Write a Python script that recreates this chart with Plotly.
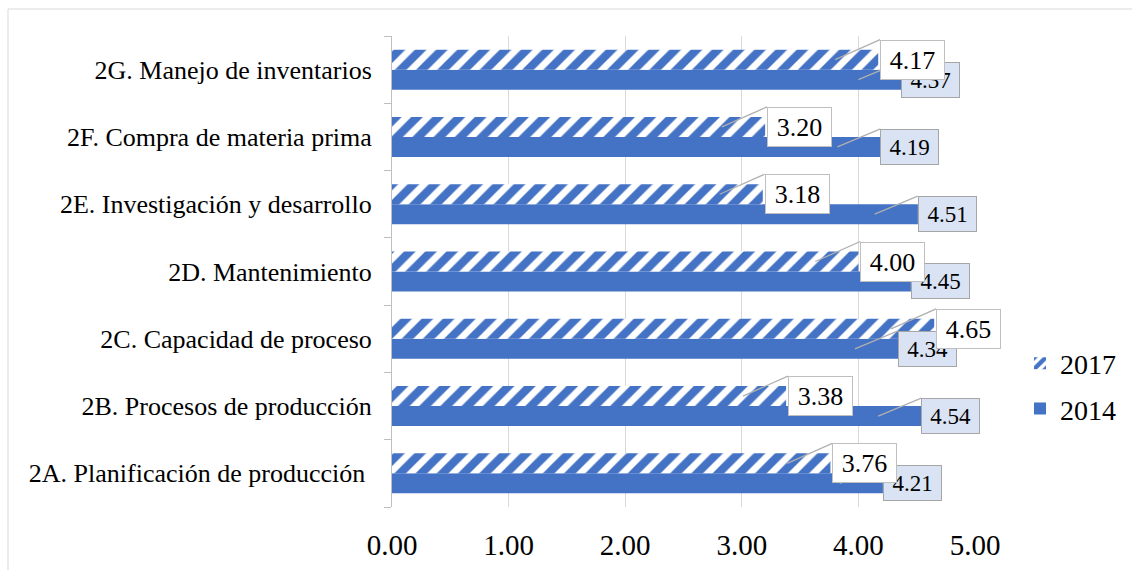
import plotly.graph_objects as go

# ---------------- data ----------------
categories = [
    "2A. Planificación de producción\u00a0",
    "2B. Procesos de producción",
    "2C. Capacidad de proceso",
    "2D. Mantenimiento",
    "2E. Investigación y desarrollo",
    "2F. Compra de materia prima",
    "2G. Manejo de inventarios",
]
values_2017 = [3.76, 3.38, 4.65, 4.00, 3.18, 3.20, 4.17]
values_2014 = [4.21, 4.54, 4.34, 4.45, 4.51, 4.19, 4.37]
series_names = ["2017", "2014"]
x_tick_values = [0, 1, 2, 3, 4, 5]
x_tick_labels = ["0.00", "1.00", "2.00", "3.00", "4.00", "5.00"]

# ---------------- style ----------------
BLUE = "#4472C4"
FONT = "Liberation Serif"
W, H = 1132, 570
ML, MR, MT, MB = 392, 157, 36, 63
PW, PH = W - ML - MR, H - MT - MB
BARGAP = 0.406
half = (1 - BARGAP) / 4  # centre offset of each bar in a group
LEADER_BACK = 0.37       # leader line starts a bit inside the bar end

fig = go.Figure()

fig.add_trace(go.Bar(
    y=categories, x=values_2014, orientation="h", name=series_names[1],
    marker=dict(color=BLUE, line=dict(width=0)),
    legendgroup="b", legendrank=2, hoverinfo="skip",
))
fig.add_trace(go.Bar(
    y=categories, x=values_2017, orientation="h", name=series_names[0],
    marker=dict(color="white", line=dict(width=0),
                pattern=dict(shape="/", fgcolor=BLUE, bgcolor="white", fgopacity=1,
                             size=15, solidity=0.55, fillmode="overlay")),
    legendgroup="a", legendrank=1, hoverinfo="skip",
))

annotations = []
# 2014 labels first (drawn underneath)
for i, v in enumerate(values_2014):
    annotations.append(dict(
        x=v - LEADER_BACK, y=i - half, xref="x", yref="y",
        text=f"{v:.2f}", showarrow=True, arrowhead=0, arrowwidth=1.3,
        arrowcolor="#B0B0B0", ax=43, ay=-18,
        xanchor="left", yanchor="top",
        width=51, height=28, bgcolor="#DAE3F3", bordercolor="#A6A6A6",
        borderwidth=1, borderpad=3,
        font=dict(size=23, color="black", family=FONT),
    ))
for i, v in enumerate(values_2017):
    annotations.append(dict(
        x=v - LEADER_BACK, y=i + half, xref="x", yref="y",
        text=f"{v:.2f}", showarrow=True, arrowhead=0, arrowwidth=1.3,
        arrowcolor="#B0B0B0", ax=45, ay=-20,
        xanchor="left", yanchor="top",
        width=57, height=32, bgcolor="white", bordercolor="#BFBFBF",
        borderwidth=1, borderpad=3,
        font=dict(size=26, color="black", family=FONT),
    ))

shapes = [dict(
    type="rect", xref="paper", yref="paper",
    x0=(8 - ML) / PW, x1=(W + 10 - ML) / PW,
    y0=(PH + MT - (H + 10)) / PH, y1=(PH + MT - 9) / PH,
    line=dict(color="#D9D9D9", width=1), fillcolor="rgba(0,0,0,0)", layer="below",
)]

fig.update_layout(
    width=W, height=H,
    margin=dict(l=ML, r=MR, t=MT, b=MB, autoexpand=False),
    paper_bgcolor="white", plot_bgcolor="white",
    barmode="group", bargap=BARGAP, bargroupgap=0,
    font=dict(family=FONT, color="black"),
    showlegend=True,
    legend=dict(
        x=(1020 - ML) / PW, xanchor="left",
        y=(PH + MT - 386) / PH, yanchor="middle",
        traceorder="grouped", tracegroupgap=6,
        font=dict(size=28, family=FONT, color="black"),
        bgcolor="rgba(0,0,0,0)",
    ),
    xaxis=dict(
        range=[0, 5], tickvals=x_tick_values, ticktext=x_tick_labels,
        showgrid=True, gridcolor="#D9D9D9", gridwidth=1,
        zeroline=False, showline=False, ticks="",
        tickfont=dict(size=29, family=FONT, color="black"),
        ticklabelstandoff=18, automargin=False, fixedrange=True,
    ),
    yaxis=dict(
        categoryorder="array", categoryarray=categories,
        showline=True, linecolor="#BFBFBF", linewidth=1,
        ticks="outside", tickson="boundaries", ticklen=7, tickcolor="#BFBFBF",
        showgrid=False, zeroline=False,
        tickfont=dict(size=26, family=FONT, color="black"),
        ticklabelstandoff=14, automargin=False, fixedrange=True,
    ),
    annotations=annotations,
    shapes=shapes,
    hovermode=False,
)

fig.write_html(
    "out.html",
    config={"displayModeBar": False},
    post_script="document.body.style.margin='0px';document.body.style.overflow='hidden';",
)
